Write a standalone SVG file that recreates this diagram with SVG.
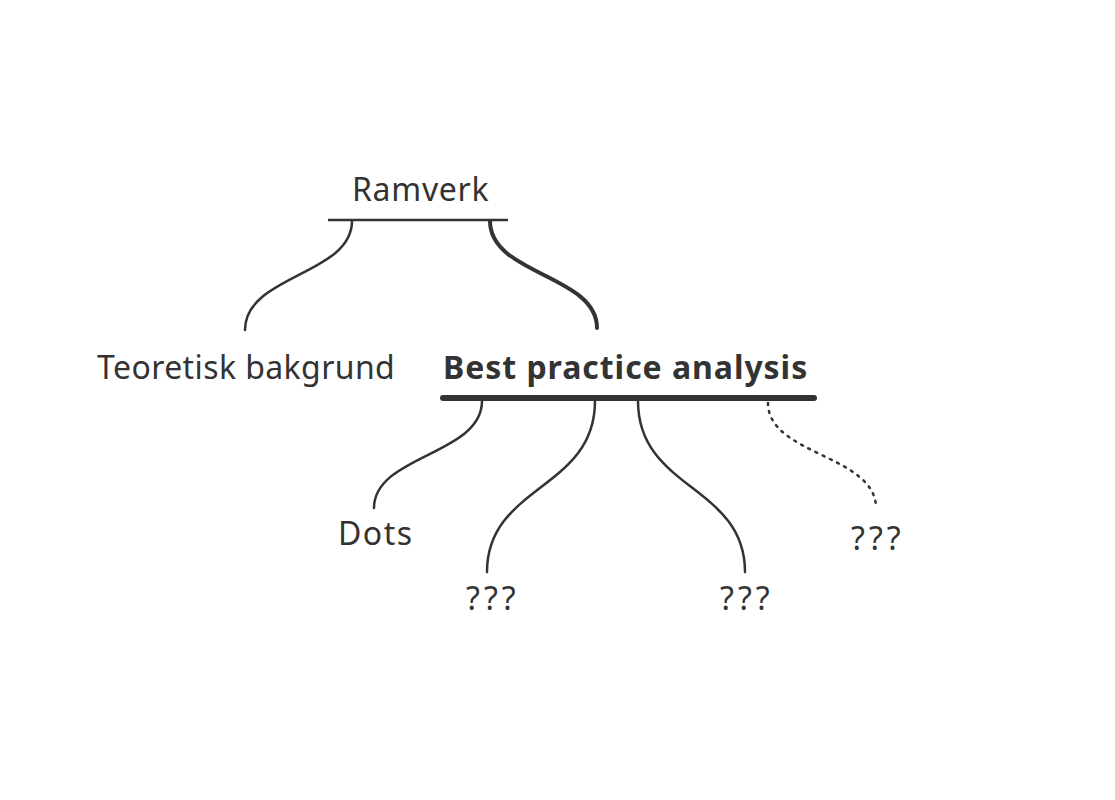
<svg xmlns="http://www.w3.org/2000/svg" width="1115" height="800" viewBox="0 0 1115 800">
<style>
.t{font-family:"Noto Sans","DejaVu Sans",sans-serif;font-size:32px;fill:#333;letter-spacing:0.4px;}
.b{font-weight:bold;letter-spacing:0.95px;}
.q{letter-spacing:4px;}
.c{fill:none;stroke:#333;stroke-width:2.5;stroke-linecap:round;}
.thick{stroke-width:4;}
.dot{stroke-dasharray:2 6;}
</style>
<rect width="1115" height="800" fill="#fff"/>
<g id="ramverk">
<text class="t" x="352" y="201" style="letter-spacing:0.7px">Ramverk</text>
<line x1="328" y1="220" x2="508" y2="220" stroke="#333" stroke-width="2.5"/>
</g>
<g id="teoretisk">
<text class="t" x="97" y="379">Teoretisk bakgrund</text>
</g>
<g id="best">
<text class="t b" x="443" y="379">Best practice analysis</text>
<line x1="443" y1="398" x2="814" y2="398" stroke="#333" stroke-width="6" stroke-linecap="round"/>
</g>
<g id="dots"><text class="t" x="338" y="545" style="letter-spacing:1.5px">Dots</text></g>
<g id="q1"><text class="t q" x="466" y="610">???</text></g>
<g id="q2"><text class="t q" x="720" y="610">???</text></g>
<g id="q3"><text class="t q" x="851" y="550">???</text></g>
<g id="connectors">
<path class="c" d="M352 221 C352 275 245 275 245 330"/>
<path class="c thick" d="M490 221 C490 275 597 275 597 328"/>
<path class="c" d="M482 401 C482 455 374 455 374 508"/>
<path class="c" d="M595 401 C595 490 487 485 487 572"/>
<path class="c" d="M638 401 C638 490 745 485 745 572"/>
<path class="c dot" d="M768 403 C768 455 876 455 876 508"/>
</g>
</svg>
